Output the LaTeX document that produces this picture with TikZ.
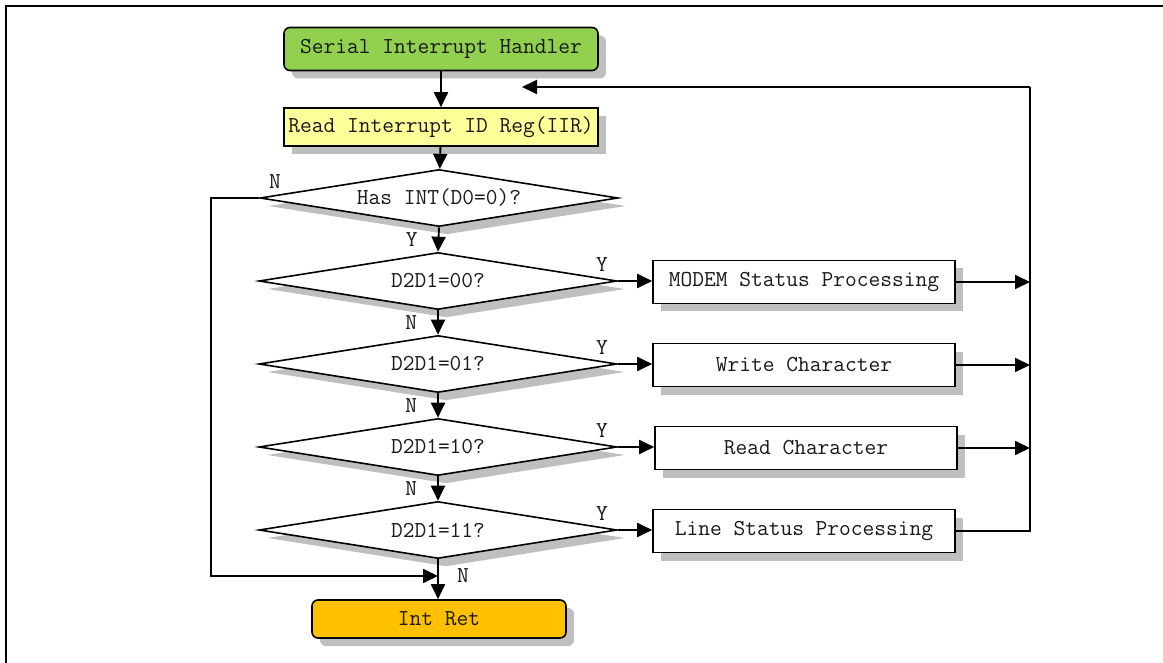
\documentclass[tikz,border=0pt]{standalone}
\usepackage{xcolor}
\usetikzlibrary{shapes.geometric, arrows.meta, positioning, shadows}

\definecolor{startgreen}{HTML}{92D050}
\definecolor{readyellow}{HTML}{FFFF99}
\definecolor{retorange}{HTML}{FFC000}

\begin{document}
\begin{tikzpicture}[
    x=1pt, y=-1pt,
    every node/.style={font=\ttfamily\fontsize{22.8}{26}\selectfont, text=black!90},
    shade/.style={drop shadow={shadow xshift=8pt, shadow yshift=-8pt, fill=black!25, opacity=1}},
    box/.style={rectangle, draw=black, line width=1.6pt, fill=white, minimum width=302pt, minimum height=43pt, inner sep=0pt, shade},
    term/.style={box, rounded corners=6pt},
    choice/.style={diamond, draw=black, line width=1.6pt, fill=white, minimum width=358pt, minimum height=57pt, inner sep=0pt, aspect=6, shade},
    arrow/.style={-{Triangle[length=15pt, width=14pt]}, line width=1.9pt},
    line/.style={line width=1.9pt},
    tag/.style={inner sep=1pt}
]
\useasboundingbox (0,0) rectangle (1163,663);

% Kader
\draw[line width=2pt] (1163,6) -- (6,6) -- (6,663);

% Blokken
\node[term, fill=startgreen, minimum width=314pt] (start) at (441,49) {Serial Interrupt Handler};
\node[box, fill=readyellow, minimum width=314pt, minimum height=38pt] (iir) at (441,127) {Read Interrupt ID Reg(IIR)};
\node[choice] (has) at (439,198) {Has INT(D0=0)?};
\node[term, fill=retorange, minimum width=254pt, minimum height=38pt] (ret) at (439,619) {Int Ret};

\coordinate (bus)   at (1030,87);
\coordinate (back)  at (522,87);
\coordinate (merge) at (438,576);

% Keuzes en acties
\foreach \n/\y/\bx/\code/\txt in {1/281/804/00/MODEM Status Processing, 2/364/804/01/Write Character, 3/447/806/10/Read Character, 4/530/804/11/Line Status Processing} {
    \node[choice] (q\n) at (438,\y) {D2D1=\code?};
    \node[box] (act\n) at (\bx,\y+1) {\txt};
    \draw[arrow] (q\n.east) -- (q\n.east -| act\n.west);
    \node[tag] (yes\n) at (602,\y-16) {Y};
}

% Pijlen
\draw[arrow] (start) -- (iir);
\draw[arrow] (iir) -- (has);
\draw[arrow] (has.south) -- node[tag, left=19pt] (yes0) {Y} (q1.north);
\foreach \a/\b in {1/2, 2/3, 3/4} {
    \draw[arrow] (q\a.south) -- node[tag, left=19pt] (no\a) {N} (q\b.north);
}
\draw[arrow] (q4.south) -- (q4.south |- ret.north);
\node[tag, right=18pt] (no4) at (merge) {N};
\draw[arrow] (has.west) -- ++(-48,0) |- (merge);
\node[tag] (no0) at (275,182) {N};

\foreach \n in {1,2,3} {
    \draw[arrow] (act\n.east) -- (act\n.east -| bus);
}
\draw[line] (act4.east) -| (bus);
\draw[arrow] (bus) -- (back);

\end{tikzpicture}
\end{document}
